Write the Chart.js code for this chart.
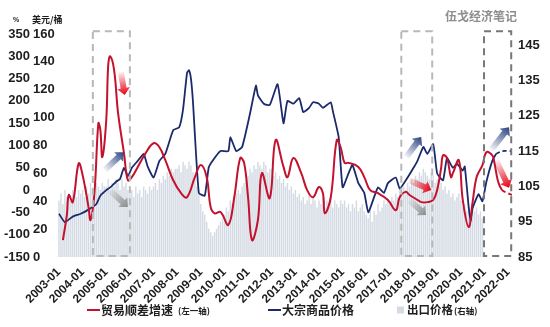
<!DOCTYPE html>
<html>
<head>
<meta charset="utf-8">
<script src="https://cdn.jsdelivr.net/npm/chart.js@4.4.1/dist/chart.umd.min.js"></script>
<style>
  body { margin: 0; background: #fff; }
  #wrap { width: 550px; height: 327px; }
</style>
</head>
<body>
<div id="wrap"><canvas id="chart" width="550" height="327"></canvas></div>
<script>
// x axis tick labels (one per January)
const xTickLabels = ['2003-01', '2004-01', '2005-01', '2006-01', '2007-01', '2008-01', '2009-01',
    '2010-01', '2011-01', '2012-01', '2013-01', '2014-01', '2015-01', '2016-01', '2017-01',
    '2018-01', '2019-01', '2020-01', '2021-01', '2022-01'];
const rightTicks = [85, 95, 105, 115, 125, 135, 145];

// 贸易顺差增速 (%), left axis
const redDates = ['2003-03', '2003-05', '2003-06', '2003-08', '2003-11', '2004-01', '2004-04', '2004-05',
    '2004-07', '2004-09', '2004-10', '2004-11', '2005-01', '2005-02', '2005-03', '2005-05', '2005-07',
    '2005-10', '2005-12', '2006-02', '2006-05', '2006-09', '2007-01', '2007-04', '2007-07', '2007-11',
    '2008-03', '2008-06', '2008-10', '2009-01', '2009-04', '2009-06', '2009-08', '2009-11', '2010-03',
    '2010-06', '2010-09', '2010-11', '2011-01', '2011-03', '2011-06', '2011-08', '2011-12', '2012-03',
    '2012-07', '2012-09', '2012-12', '2013-04', '2013-07', '2013-10', '2014-01', '2014-03', '2014-04',
    '2014-07', '2014-10', '2014-12', '2015-02', '2015-04', '2015-09', '2015-12', '2016-03', '2016-07',
    '2016-12', '2017-04', '2017-06', '2017-09', '2017-11', '2018-03', '2018-05', '2018-08', '2018-11',
    '2019-01', '2019-03', '2019-04', '2019-06', '2019-08', '2019-09', '2019-12', '2020-02', '2020-05',
    '2020-07', '2020-09', '2020-12', '2021-02', '2021-05', '2021-06', '2021-08', '2021-10', '2022-01',
    '2022-03'];
const redValues = [-112, -56, -11, -27, 60, 34, -38, -67,
    -7, 150, 135, 74, 157, 280, 300, 269, 173,
    83, 22, 29, 52, 83, 105, 96, 67, 22,
    -7, -16, 29, 56, 29, -38, -52, -49, -78,
    -16, 72, 61, -16, -112, -67, 38, -18, 112,
    52, 29, 72, 38, 0, -16, 7, -7, -52,
    -16, 112, 96, 61, 61, 52, 29, 0, -7,
    -22, -45, -16, -4, -11, -22, -27, -27, -22,
    0, 49, 78, 72, 29, 38, 67, -22, -83,
    -27, 29, 56, 85, 78, 63, 18, 0, -7,
    -11];
const redForecastFrom = '2021-10';

// 大宗商品价格 (美元/桶), second left axis
const navyDates = ['2003-01', '2003-04', '2003-08', '2003-12', '2004-04', '2004-08', '2004-10', '2005-01',
    '2005-03', '2005-06', '2005-08', '2005-10', '2005-12', '2006-02', '2006-05', '2006-08', '2006-10',
    '2007-01', '2007-04', '2007-07', '2007-11', '2008-02', '2008-04', '2008-06', '2008-07', '2008-08',
    '2008-09', '2008-12', '2009-03', '2009-05', '2009-07', '2009-11', '2010-03', '2010-04', '2010-07',
    '2010-10', '2011-02', '2011-05', '2011-06', '2011-09', '2011-12', '2012-04', '2012-07', '2012-09',
    '2012-12', '2013-03', '2013-05', '2013-08', '2013-10', '2014-01', '2014-03', '2014-07', '2014-08',
    '2014-11', '2015-01', '2015-04', '2015-06', '2015-09', '2015-12', '2016-02', '2016-05', '2016-07',
    '2016-10', '2016-12', '2017-04', '2017-06', '2017-10', '2018-01', '2018-03', '2018-06', '2018-08',
    '2018-11', '2019-01', '2019-04', '2019-06', '2019-09', '2019-11', '2020-02', '2020-03', '2020-05',
    '2020-06', '2020-07', '2020-10', '2020-12', '2021-02', '2021-05', '2021-07', '2021-10', '2022-03'];
const navyValues = [31, 25, 29, 31, 34, 38, 44, 48,
    50, 54, 56, 64, 58, 64, 69, 74, 65,
    57, 69, 74, 91, 93, 106, 132, 134, 128,
    112, 46, 44, 64, 69, 76, 76, 86, 76,
    79, 103, 123, 116, 110, 109, 124, 96, 112,
    110, 114, 104, 107, 111, 110, 107, 111, 105,
    86, 50, 60, 66, 53, 46, 32, 43, 50,
    46, 53, 57, 49, 57, 64, 69, 79, 74,
    81, 60, 55, 71, 64, 67, 62, 65, 36,
    26, 35, 45, 40, 54, 69, 74, 76, 76];
const navyForecastFrom = '2021-07';

// 出口价格 (右轴), monthly from 2003-01 to 2020-12
const exportStart = '2003-01';
const exportPrice = [
    101, 103, 100, 104, 102, 103, 101, 104, 103, 102, 104, 103,
    104, 102, 105, 103, 106, 104, 103, 106, 105, 104, 106, 105,
    105, 107, 104, 106, 105, 107, 106, 104, 107, 105, 106, 104,
    103, 104, 102, 105, 103, 104, 102, 105, 104, 103, 105, 104,
    105, 106, 104, 107, 106, 108, 107, 109, 108, 110, 109, 110,
    110, 111, 109, 112, 111, 110, 112, 111, 109, 107, 105, 103,
    100, 98, 97, 95, 93, 92, 91, 92, 93, 94, 95, 96,
    97, 99, 98, 101, 100, 102, 103, 104, 103, 105, 106, 107,
    108, 110, 109, 111, 110, 112, 111, 110, 112, 111, 109, 110,
    110, 108, 109, 107, 108, 106, 107, 105, 106, 104, 105, 103,
    104, 102, 103, 101, 102, 100, 101, 103, 100, 102, 101, 99,
    101, 100, 102, 99, 101, 100, 102, 99, 101, 100, 99, 101,
    100, 101, 99, 100, 98, 100, 99, 101, 98, 99, 100, 98,
    97, 96, 99, 95, 98, 97, 100, 98, 99, 101, 100, 101,
    100, 102, 101, 103, 102, 104, 103, 105, 104, 106, 105, 107,
    106, 108, 107, 109, 108, 110, 109, 108, 107, 109, 108, 106,
    107, 105, 106, 104, 105, 103, 104, 102, 103, 101, 102, 103,
    101, 99, 100, 98, 99, 97, 100, 98, 99, 97, 98, 96];

// dashed boxes and arrows, in month index / left-axis % units
const boxes = [
    { from: 17.2, to: 36, top: 356, bottom: -148, color: '#b8b8b8' },
    { from: 173.8, to: 189.5, top: 356, bottom: -148, color: '#b8b8b8' },
    { from: 215.8, to: 229.6, top: 356, bottom: -148, color: '#777777' }
];
const arrows = [
    { x0: 31.4, y0: 265, x1: 33.4, y1: 213, color: [230, 0, 18] },
    { x0: 23.3, y0: 45, x1: 32.9, y1: 85, color: [42, 68, 128] },
    { x0: 25.8, y0: 0, x1: 35, y1: -38, color: [140, 140, 140] },
    { x0: 176.3, y0: 74, x1: 183.9, y1: 119, color: [42, 68, 128] },
    { x0: 177.8, y0: 22, x1: 189, y1: 0, color: [230, 0, 18] },
    { x0: 177.8, y0: -22, x1: 186.4, y1: -56, color: [140, 140, 140] },
    { x0: 219.4, y0: 90, x1: 228.5, y1: 141, color: [42, 68, 128] },
    { x0: 221.9, y0: 67, x1: 228.5, y1: 5, color: [230, 0, 18] }
];

const RED = '#c3112e';
const NAVY = '#1b2a6b';
const BAR = '#d5dbe4';
const TEXT = '#1e1e1e';

function monthIndex(d) {
    const [y, m] = d.split('-').map(Number);
    return (y - 2003) * 12 + (m - 1);
}

const redData = redDates.map((d, i) => ({ x: monthIndex(d), y: redValues[i] }));
const navyData = navyDates.map((d, i) => ({ x: monthIndex(d), y: navyValues[i] }));
const barData = exportPrice.map((v, i) => ({ x: monthIndex(exportStart) + i, y: v }));

function drawArrow(ctx, x0, y0, x1, y1, rgb) {
    const len = Math.hypot(x1 - x0, y1 - y0);
    const w = 3, hw = 6.5, hl = 7;
    ctx.save();
    ctx.translate(x0, y0);
    ctx.rotate(Math.atan2(y1 - y0, x1 - x0));
    const g = ctx.createLinearGradient(0, 0, len, 0);
    g.addColorStop(0, `rgba(${rgb.join(',')},0.05)`);
    g.addColorStop(1, `rgba(${rgb.join(',')},1)`);
    ctx.fillStyle = g;
    ctx.beginPath();
    ctx.moveTo(0, -w);
    ctx.lineTo(len - hl, -w);
    ctx.lineTo(len - hl, -hw);
    ctx.lineTo(len, 0);
    ctx.lineTo(len - hl, hw);
    ctx.lineTo(len - hl, w);
    ctx.lineTo(0, w);
    ctx.closePath();
    ctx.fill();
    ctx.restore();
}

const decor = {
    id: 'decor',
    afterDatasetsDraw(chart) {
        const ctx = chart.ctx;
        const xs = chart.scales.x, ys = chart.scales.yPct;
        ctx.save();
        ctx.lineWidth = 2;
        ctx.setLineDash([7, 5]);
        boxes.forEach(b => {
            ctx.strokeStyle = b.color;
            const l = xs.getPixelForValue(b.from), r = xs.getPixelForValue(b.to);
            const t = ys.getPixelForValue(b.top), btm = ys.getPixelForValue(b.bottom);
            ctx.strokeRect(l, t, r - l, btm - t);
        });
        ctx.restore();
        arrows.forEach(a => drawArrow(ctx,
            xs.getPixelForValue(a.x0), ys.getPixelForValue(a.y0),
            xs.getPixelForValue(a.x1), ys.getPixelForValue(a.y1), a.color));
    },
    afterDraw(chart) {
        const ctx = chart.ctx;
        ctx.save();
        ctx.textBaseline = 'middle';
        ctx.fillStyle = TEXT;
        // axis titles
        ctx.font = 'bold 7px "Liberation Sans"';
        ctx.fillText('%', 13, 20);
        ctx.font = 'bold 9px "Noto Sans CJK SC"';
        ctx.fillText('美元/桶', 32, 20);
        // watermark
        ctx.fillStyle = '#8e8e8e';
        ctx.font = 'bold 12px "Noto Sans CJK SC"';
        ctx.fillText('伍戈经济笔记', 445, 16);

        // legend
        const ly = 310;
        ctx.lineWidth = 2;
        ctx.strokeStyle = RED;
        ctx.beginPath(); ctx.moveTo(87, ly); ctx.lineTo(100, ly); ctx.stroke();
        ctx.fillStyle = TEXT;
        ctx.font = 'bold 12px "Noto Sans CJK SC"';
        ctx.fillText('贸易顺差增速', 101, ly);
        ctx.font = 'bold 8.5px "Noto Sans CJK SC"';
        ctx.fillText('(左一轴)', 178, ly + 1);

        ctx.strokeStyle = NAVY;
        ctx.beginPath(); ctx.moveTo(268, ly); ctx.lineTo(281, ly); ctx.stroke();
        ctx.font = 'bold 12px "Noto Sans CJK SC"';
        ctx.fillText('大宗商品价格', 282, ly);

        ctx.fillStyle = BAR;
        ctx.fillRect(397, ly - 3.5, 7, 7);
        ctx.fillStyle = TEXT;
        ctx.font = 'bold 11.5px "Noto Sans CJK SC"';
        ctx.fillText('出口价格', 407, ly);
        ctx.font = 'bold 8.5px "Noto Sans CJK SC"';
        ctx.fillText('(右轴)', 454, ly + 1);
        ctx.restore();
    }
};

const tickFont = { family: 'Liberation Sans', weight: 'bold', size: 13 };
const noGrid = { display: false, drawTicks: false };

new Chart(document.getElementById('chart'), {
    type: 'bar',
    data: {
        datasets: [
            {
                type: 'line', label: '贸易顺差增速', data: redData, yAxisID: 'yPct',
                borderColor: RED, borderWidth: 2, pointRadius: 0, tension: 0.4, order: 1,
                segment: { borderDash: c => c.p0.parsed.x >= monthIndex(redForecastFrom) ? [4, 3] : undefined }
            },
            {
                type: 'line', label: '大宗商品价格', data: navyData, yAxisID: 'yOil',
                borderColor: NAVY, borderWidth: 1.8, pointRadius: 0, tension: 0.15, order: 2,
                segment: { borderDash: c => c.p0.parsed.x >= monthIndex(navyForecastFrom) ? [4, 3] : undefined }
            },
            {
                type: 'bar', label: '出口价格', data: barData, yAxisID: 'yRight',
                backgroundColor: BAR, barPercentage: 0.75, categoryPercentage: 1, order: 3
            }
        ]
    },
    options: {
        responsive: false,
        animation: false,
        layout: { padding: { top: 34, left: 0, right: 0, bottom: 0 } },
        plugins: { legend: { display: false }, tooltip: { enabled: false } },
        scales: {
            x: {
                type: 'linear', min: -1, max: 230, offset: false,
                grid: noGrid, border: { display: false },
                afterBuildTicks: s => { s.ticks = xTickLabels.map((_, i) => ({ value: i * 12 })); },
                afterFit: s => { s.height = 70; },
                ticks: {
                    autoSkip: false, minRotation: 45, maxRotation: 45, padding: 8,
                    color: TEXT, font: { family: 'Liberation Sans', weight: 'bold', size: 12 },
                    callback: v => xTickLabels[Math.round(v / 12)]
                }
            },
            yPct: {
                position: 'left', weight: 2, min: -150, max: 350,
                grid: noGrid, border: { display: false },
                afterFit: s => { s.width = 33; },
                ticks: { stepSize: 50, padding: 3, color: TEXT, font: tickFont }
            },
            yOil: {
                position: 'left', weight: 1, min: 0, max: 160,
                grid: noGrid, border: { display: false },
                afterFit: s => { s.width = 24; },
                ticks: { stepSize: 20, crossAlign: 'far', color: TEXT, font: tickFont }
            },
            yRight: {
                position: 'right', min: 85, max: 148.2,
                grid: noGrid, border: { display: false },
                afterBuildTicks: s => { s.ticks = rightTicks.map(v => ({ value: v })); },
                afterFit: s => { s.width = 38; },
                ticks: { padding: 6, color: TEXT, font: tickFont }
            }
        }
    },
    plugins: [decor]
});
</script>
</body>
</html>
